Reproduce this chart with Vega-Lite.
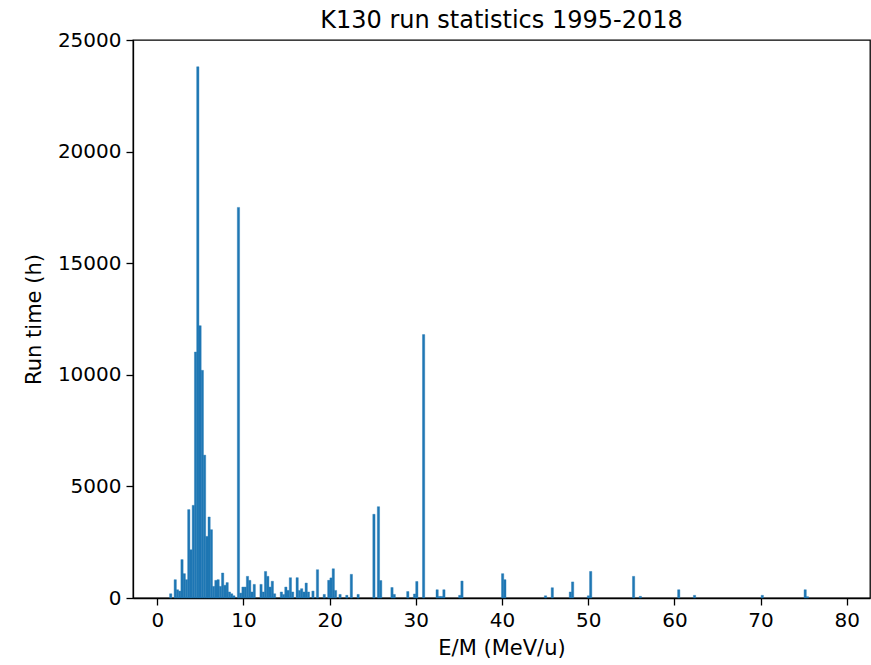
{
  "$schema": "https://vega.github.io/schema/vega-lite/v6.json",
  "width": 737,
  "height": 558,
  "autosize": {"type": "none"},
  "padding": {"left": 133, "top": 40, "right": 1, "bottom": 67},
  "background": "white",
  "title": {"text": "K130 run statistics 1995-2018", "fontSize": 24, "font": "DejaVu Sans", "fontWeight": "normal", "color": "black", "offset": -3},
  "config": {
    "view": {"stroke": "black", "strokeWidth": 1.3},
    "axis": {
      "domainColor": "black", "domainWidth": 1.3, "tickColor": "black", "tickWidth": 1.3, "tickSize": 7,
      "labelColor": "black", "titleColor": "black", "labelFont": "DejaVu Sans", "titleFont": "DejaVu Sans",
      "labelFontSize": 20, "titleFontSize": 21, "titleFontWeight": "normal", "grid": false, "labelPadding": 5, "titlePadding": 7
    }
  },
  "data": {"values": [
    {"lo": 1.426, "hi": 1.688, "h": 190},
    {"lo": 1.95, "hi": 2.212, "h": 820},
    {"lo": 2.212, "hi": 2.474, "h": 370},
    {"lo": 2.474, "hi": 2.736, "h": 310},
    {"lo": 2.736, "hi": 2.998, "h": 1720},
    {"lo": 2.998, "hi": 3.26, "h": 1090},
    {"lo": 3.26, "hi": 3.522, "h": 820},
    {"lo": 3.522, "hi": 3.784, "h": 3960},
    {"lo": 3.784, "hi": 4.046, "h": 2160},
    {"lo": 4.046, "hi": 4.308, "h": 4150},
    {"lo": 4.308, "hi": 4.57, "h": 11020},
    {"lo": 4.57, "hi": 4.832, "h": 23800},
    {"lo": 4.832, "hi": 5.094, "h": 12200},
    {"lo": 5.094, "hi": 5.356, "h": 10200},
    {"lo": 5.356, "hi": 5.618, "h": 6400},
    {"lo": 5.618, "hi": 5.88, "h": 2760},
    {"lo": 5.88, "hi": 6.142, "h": 3630},
    {"lo": 6.142, "hi": 6.404, "h": 3060},
    {"lo": 6.404, "hi": 6.666, "h": 520},
    {"lo": 6.666, "hi": 6.928, "h": 790},
    {"lo": 6.928, "hi": 7.19, "h": 820},
    {"lo": 7.19, "hi": 7.452, "h": 520},
    {"lo": 7.452, "hi": 7.714, "h": 1120},
    {"lo": 7.714, "hi": 7.976, "h": 570},
    {"lo": 7.976, "hi": 8.238, "h": 690},
    {"lo": 8.238, "hi": 8.5, "h": 270},
    {"lo": 8.5, "hi": 8.762, "h": 190},
    {"lo": 8.762, "hi": 9.024, "h": 100},
    {"lo": 9.286, "hi": 9.548, "h": 17500},
    {"lo": 9.548, "hi": 9.81, "h": 220},
    {"lo": 9.81, "hi": 10.072, "h": 490},
    {"lo": 10.072, "hi": 10.334, "h": 490},
    {"lo": 10.334, "hi": 10.596, "h": 970},
    {"lo": 10.596, "hi": 10.858, "h": 790},
    {"lo": 10.858, "hi": 11.12, "h": 270},
    {"lo": 11.12, "hi": 11.382, "h": 610},
    {"lo": 11.906, "hi": 12.168, "h": 610},
    {"lo": 12.168, "hi": 12.43, "h": 270},
    {"lo": 12.43, "hi": 12.692, "h": 1190},
    {"lo": 12.692, "hi": 12.954, "h": 970},
    {"lo": 12.954, "hi": 13.216, "h": 490},
    {"lo": 13.216, "hi": 13.478, "h": 750},
    {"lo": 13.478, "hi": 13.74, "h": 190},
    {"lo": 14.264, "hi": 14.526, "h": 270},
    {"lo": 14.526, "hi": 14.788, "h": 160},
    {"lo": 14.788, "hi": 15.05, "h": 490},
    {"lo": 15.05, "hi": 15.312, "h": 340},
    {"lo": 15.312, "hi": 15.574, "h": 910},
    {"lo": 15.574, "hi": 15.836, "h": 270},
    {"lo": 16.098, "hi": 16.36, "h": 910},
    {"lo": 16.36, "hi": 16.622, "h": 340},
    {"lo": 16.622, "hi": 16.884, "h": 420},
    {"lo": 16.884, "hi": 17.146, "h": 270},
    {"lo": 17.146, "hi": 17.408, "h": 670},
    {"lo": 17.408, "hi": 17.67, "h": 270},
    {"lo": 17.932, "hi": 18.194, "h": 310},
    {"lo": 18.456, "hi": 18.718, "h": 1270},
    {"lo": 19.242, "hi": 19.504, "h": 160},
    {"lo": 19.766, "hi": 20.028, "h": 790},
    {"lo": 20.028, "hi": 20.29, "h": 900},
    {"lo": 20.29, "hi": 20.552, "h": 1310},
    {"lo": 20.552, "hi": 20.814, "h": 340},
    {"lo": 21.076, "hi": 21.338, "h": 160},
    {"lo": 21.862, "hi": 22.124, "h": 120},
    {"lo": 22.386, "hi": 22.648, "h": 1060},
    {"lo": 23.172, "hi": 23.434, "h": 160},
    {"lo": 25.006, "hi": 25.268, "h": 3750},
    {"lo": 25.53, "hi": 25.792, "h": 4090},
    {"lo": 25.792, "hi": 26.054, "h": 780},
    {"lo": 27.102, "hi": 27.364, "h": 470},
    {"lo": 27.364, "hi": 27.626, "h": 160},
    {"lo": 28.936, "hi": 29.198, "h": 290},
    {"lo": 29.722, "hi": 29.984, "h": 180},
    {"lo": 29.984, "hi": 30.246, "h": 740},
    {"lo": 30.77, "hi": 31.032, "h": 11800},
    {"lo": 32.342, "hi": 32.604, "h": 370},
    {"lo": 32.604, "hi": 32.866, "h": 70},
    {"lo": 32.866, "hi": 33.128, "h": 70},
    {"lo": 33.128, "hi": 33.39, "h": 370},
    {"lo": 34.962, "hi": 35.224, "h": 120},
    {"lo": 35.224, "hi": 35.486, "h": 760},
    {"lo": 39.94, "hi": 40.202, "h": 1090},
    {"lo": 40.202, "hi": 40.464, "h": 820},
    {"lo": 44.918, "hi": 45.18, "h": 100},
    {"lo": 45.704, "hi": 45.966, "h": 460},
    {"lo": 47.8, "hi": 48.062, "h": 270},
    {"lo": 48.062, "hi": 48.324, "h": 720},
    {"lo": 49.896, "hi": 50.158, "h": 100},
    {"lo": 50.158, "hi": 50.42, "h": 1190},
    {"lo": 55.136, "hi": 55.398, "h": 970},
    {"lo": 55.922, "hi": 56.184, "h": 75},
    {"lo": 60.376, "hi": 60.638, "h": 370},
    {"lo": 62.21, "hi": 62.472, "h": 120},
    {"lo": 70.07, "hi": 70.332, "h": 120},
    {"lo": 75.048, "hi": 75.31, "h": 370},
    {"lo": 75.31, "hi": 75.572, "h": 60}
  ]},
  "mark": {"type": "bar", "color": "#1f77b4", "stroke": "#1f77b4", "strokeWidth": 0.4},
  "encoding": {
    "x": {"field": "lo", "type": "quantitative", "scale": {"domain": [-2.82, 82.7], "nice": false, "zero": false},
          "axis": {"values": [0, 10, 20, 30, 40, 50, 60, 70, 80], "title": "E/M (MeV/u)"}},
    "x2": {"field": "hi"},
    "y": {"field": "h", "type": "quantitative", "scale": {"domain": [0, 25000], "nice": false},
          "axis": {"values": [0, 5000, 10000, 15000, 20000, 25000], "format": "d", "title": "Run time (h)", "titlePadding": 13}},
    "y2": {"datum": 0}
  }
}
